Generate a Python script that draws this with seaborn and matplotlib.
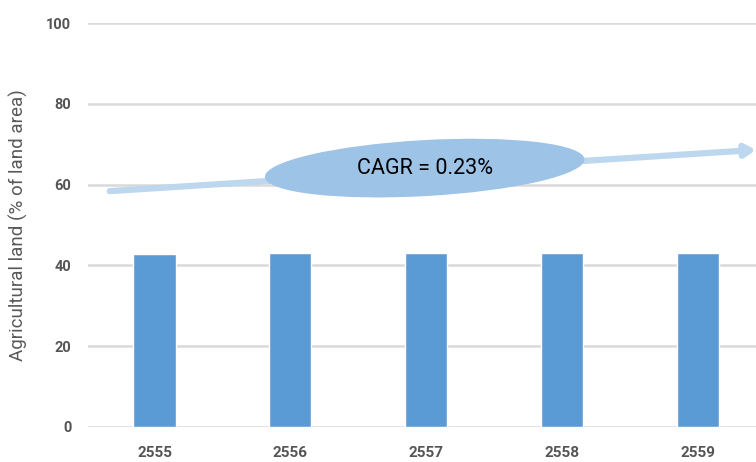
import matplotlib
matplotlib.use('Agg')
import matplotlib.pyplot as plt
import seaborn as sns
import pandas as pd
from matplotlib.patches import Ellipse
from matplotlib.transforms import ScaledTranslation

# data
years = ['2555', '2556', '2557', '2558', '2559']
agri_land = [42.9, 43.2, 43.2, 43.2, 43.2]
y_ticks = [0, 20, 40, 60, 80, 100]
cagr_text = 'CAGR = 0.23%'

sns.set_theme(style='white')
plt.rcParams['font.family'] = ['Roboto', 'DejaVu Sans']

df = pd.DataFrame({'year': years, 'value': agri_land})

fig = plt.figure(figsize=(7.56, 4.62), dpi=100)
ax = fig.add_axes([0.1164, 0.0758, 0.8836, 0.8742])

sns.barplot(data=df, x='year', y='value', color='#5B9BD5', width=0.31,
            saturation=1, ax=ax, zorder=3)

ax.set_ylim(0, 100)
ax.set_xlim(-0.49, 4.43)
ax.set_yticks(y_ticks)
ax.yaxis.grid(True, color='#D9D9D9', linewidth=1.8, zorder=0)
ax.set_axisbelow(True)
for s in ax.spines.values():
    s.set_visible(False)

ax.tick_params(axis='y', length=0, pad=12, labelsize=10.5, labelcolor='#555555')
ax.tick_params(axis='x', length=0, pad=14, labelsize=11, labelcolor='#555555')
for lab in ax.get_xticklabels() + ax.get_yticklabels():
    lab.set_fontweight('bold')

ax.set_xlabel('')
ax.set_ylabel('Agricultural land (% of land area)', fontsize=13.5, color='#595959', labelpad=13)

# trend arrow
ax.annotate('', xy=(4.43, 68.6), xytext=(-0.33, 58.4),
            arrowprops=dict(arrowstyle='-|>,head_length=0.5,head_width=0.3',
                            color='#BDD7EE', lw=4.5, shrinkA=0, shrinkB=0),
            zorder=4, annotation_clip=False)

# ellipse sized in inches, centred on a data point
cx, cy = 1.99, 64.1
ell = Ellipse((0, 0), width=3.2, height=0.56, angle=3.2,
              facecolor='#9DC3E6', edgecolor='none', zorder=5,
              transform=fig.dpi_scale_trans + ScaledTranslation(cx, cy, ax.transData))
ax.add_patch(ell)
ax.text(cx, cy, cagr_text, ha='center', va='center', fontsize=15.5,
        color='black', zorder=6)

fig.savefig('out.png', dpi=100)
